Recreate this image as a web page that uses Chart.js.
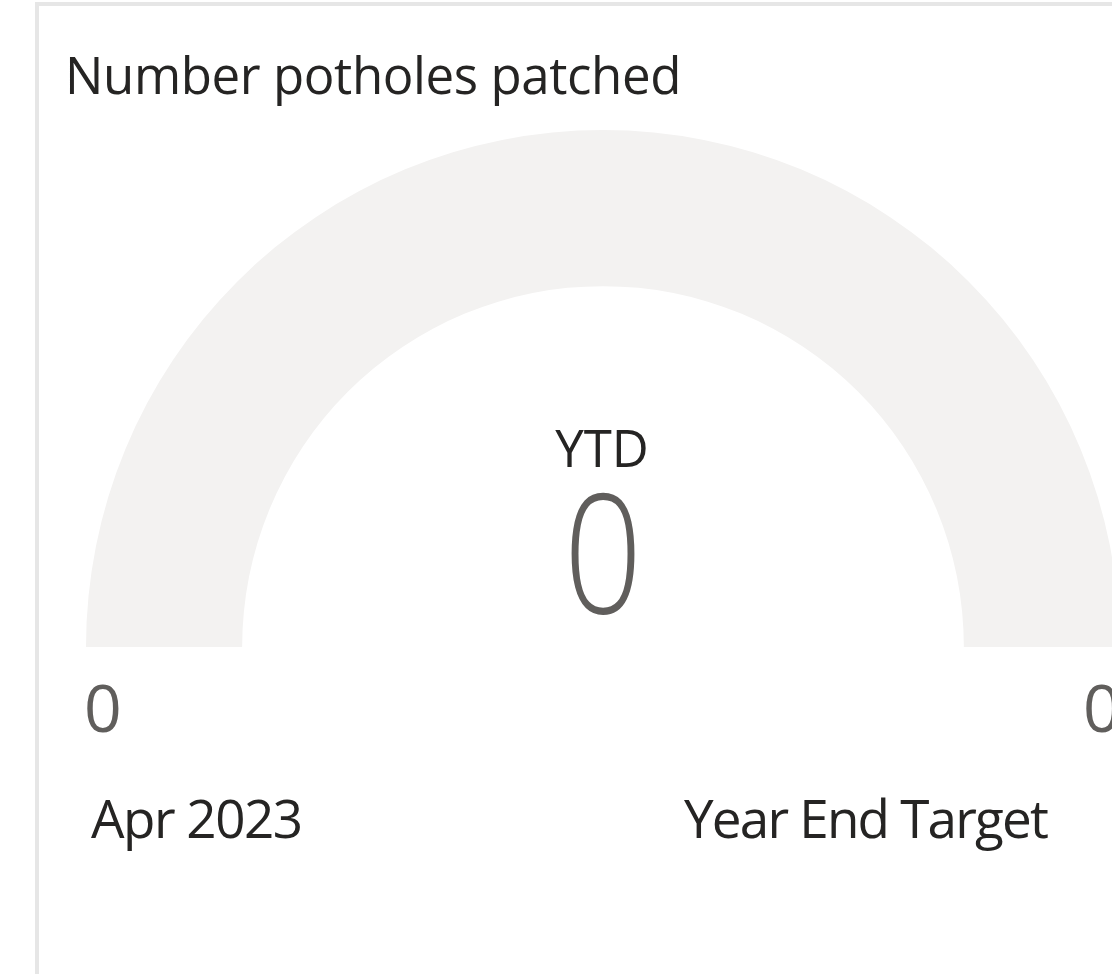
<!DOCTYPE html>
<html lang="en">
<head>
  <meta charset="UTF-8">
  <title>Number potholes patched</title>
  <script src="https://cdn.jsdelivr.net/npm/chart.js"></script>
  <style>
    html, body { margin: 0; padding: 0; width: 1112px; height: 974px; overflow: hidden; background: #fff; }
    .card { position: absolute; left: 35px; top: 2px; width: 1200px; height: 1100px; border: 4px solid #e6e6e6; background: #fff; }
    .txt { position: absolute; white-space: nowrap; line-height: 1; font-family: "Open Sans", "Segoe UI", sans-serif; }
    #gauge { position: absolute; left: 86px; top: 130px; }
  </style>
</head>
<body>
  <div class="card"></div>
  <div class="txt" id="title" style="left:65px; top:49px; font-size:51px; letter-spacing:-0.4px; color:#252423;"></div>
  <canvas id="gauge" width="1034" height="517"></canvas>
  <div class="txt" id="centerLabel" style="left:0; width:1204px; text-align:center; top:422px; font-size:51px; color:#252423;"></div>
  <div class="txt" id="centerValue" style="left:0; width:1206px; text-align:center; top:466px; font-size:166px; font-weight:300; color:#605e5c; transform:scaleX(0.83); transform-origin:603px 0;"></div>
  <div class="txt" id="minText" style="left:84px; top:673px; font-size:66px; color:#605e5c;"></div>
  <div class="txt" id="maxText" style="left:1083px; top:673px; font-size:66px; color:#605e5c;"></div>
  <div class="txt" id="periodText" style="left:91px; top:791px; font-size:53px; letter-spacing:-1.5px; color:#252423;"></div>
  <div class="txt" id="targetText" style="left:684px; top:791px; font-size:53px; letter-spacing:-1.8px; color:#252423;"></div>
  <script>
    // chart data
    const chartTitle = ['Number potholes patched'];
    const centerLabels = ['YTD'];
    const ytdValues = [0];
    const targetValues = [0];
    const rangeLabels = ['0', '0'];
    const footerLabels = ['Apr 2023', 'Year End Target'];

    document.getElementById('title').innerText = chartTitle[0];
    document.getElementById('centerLabel').innerText = centerLabels[0];
    document.getElementById('centerValue').innerText = ytdValues[0];
    document.getElementById('minText').innerText = rangeLabels[0];
    document.getElementById('maxText').innerText = rangeLabels[1];
    document.getElementById('periodText').innerText = footerLabels[0];
    document.getElementById('targetText').innerText = footerLabels[1];

    // gauge: filled part = ytd, rest = track (empty track when target is 0)
    const ytd = ytdValues[0];
    const target = targetValues[0];
    const track = target > 0 ? Math.max(target - ytd, 0) : 1;

    new Chart(document.getElementById('gauge'), {
      type: 'doughnut',
      data: {
        labels: ['YTD', 'Remaining'],
        datasets: [{
          data: [ytd, track],
          backgroundColor: ['#118dff', '#f3f2f1'],
          borderWidth: 0
        }]
      },
      options: {
        responsive: false,
        animation: false,
        rotation: -90,
        circumference: 180,
        cutout: '69.8%',
        layout: { padding: 0 },
        plugins: { legend: { display: false }, tooltip: { enabled: false } }
      }
    });
  </script>
</body>
</html>
